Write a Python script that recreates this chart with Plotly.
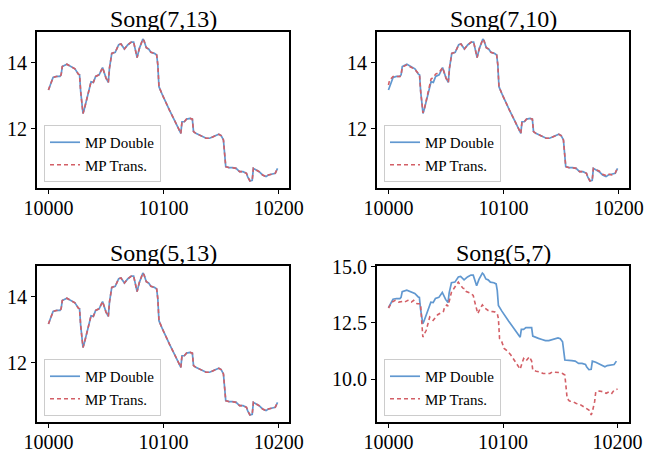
import plotly.graph_objects as go

W, H = 646, 456

titles = ["Song(7,13)", "Song(7,10)", "Song(5,13)", "Song(5,7)"]
x_tickvals = [10000, 10100, 10200]

# MP Double (shared by all panels)
double_x = [10000, 10001, 10004, 10007, 10010, 10011, 10012, 10016, 10018, 10021,
            10023, 10026, 10027, 10028, 10030, 10031, 10034, 10037, 10039, 10041,
            10044, 10047, 10050, 10052, 10053, 10055, 10058, 10061, 10063, 10066,
            10069, 10072, 10074, 10076, 10077, 10079, 10082, 10083, 10085, 10087,
            10089, 10092, 10094, 10095, 10096, 10099, 10102, 10105, 10108, 10111,
            10113, 10115, 10116, 10118, 10120, 10123, 10125, 10126, 10128, 10131,
            10134, 10137, 10140, 10143, 10146, 10148, 10150, 10152, 10154, 10157,
            10160, 10163, 10166, 10169, 10172, 10173, 10175, 10177, 10178, 10181,
            10183, 10186, 10189, 10191, 10194, 10197, 10199]
double_y = [13.17, 13.27, 13.55, 13.58, 13.58, 13.63, 13.88, 13.95, 13.91, 13.86,
            13.81, 13.65, 13.63, 13.12, 12.46, 12.57, 13.02, 13.42, 13.40, 13.58,
            13.63, 13.85, 13.53, 13.40, 13.83, 14.28, 14.31, 14.54, 14.56, 14.41,
            14.54, 14.62, 14.62, 14.33, 14.15, 14.43, 14.71, 14.66, 14.45, 14.41,
            14.31, 14.28, 14.23, 13.93, 13.27, 13.02, 12.77, 12.57, 12.36, 12.13,
            11.96, 11.86, 12.21, 12.21, 12.29, 12.31, 12.29, 11.91, 11.86, 11.81,
            11.76, 11.71, 11.71, 11.76, 11.79, 11.83, 11.79, 11.66, 10.85, 10.82,
            10.82, 10.80, 10.70, 10.70, 10.65, 10.55, 10.42, 10.44, 10.80, 10.75,
            10.70, 10.60, 10.55, 10.60, 10.62, 10.65, 10.80]

# MP Trans. per panel
trans_7_13_y = [13.17, 13.27, 13.55, 13.58, 13.58, 13.63, 13.88, 13.95, 13.91, 13.86,
                13.81, 13.65, 13.63, 13.12, 12.46, 12.57, 13.02, 13.42, 13.40, 13.58,
                13.63, 13.85, 13.53, 13.40, 13.83, 14.28, 14.31, 14.54, 14.56, 14.41,
                14.54, 14.62, 14.62, 14.33, 14.15, 14.43, 14.71, 14.66, 14.45, 14.41,
                14.31, 14.28, 14.23, 13.93, 13.27, 13.02, 12.77, 12.57, 12.36, 12.13,
                11.96, 11.86, 12.21, 12.21, 12.29, 12.31, 12.29, 11.91, 11.86, 11.81,
                11.76, 11.71, 11.71, 11.76, 11.79, 11.83, 11.79, 11.66, 10.85, 10.82,
                10.82, 10.80, 10.70, 10.70, 10.65, 10.55, 10.42, 10.44, 10.80, 10.75,
                10.70, 10.60, 10.55, 10.60, 10.62, 10.65, 10.80]
trans_7_10_y = [13.32, 13.47, 13.58, 13.58, 13.58, 13.63, 13.86, 13.93, 13.88, 13.83,
                13.79, 13.65, 13.63, 13.12, 12.48, 12.57, 13.05, 13.50, 13.55, 13.65,
                13.70, 13.85, 13.53, 13.40, 13.83, 14.28, 14.31, 14.54, 14.56, 14.41,
                14.54, 14.62, 14.62, 14.33, 14.15, 14.43, 14.71, 14.66, 14.45, 14.41,
                14.31, 14.28, 14.23, 13.93, 13.27, 13.02, 12.77, 12.57, 12.36, 12.13,
                11.96, 11.86, 12.21, 12.21, 12.29, 12.31, 12.29, 11.91, 11.86, 11.81,
                11.76, 11.71, 11.71, 11.76, 11.79, 11.83, 11.79, 11.66, 10.85, 10.82,
                10.82, 10.80, 10.70, 10.70, 10.65, 10.55, 10.42, 10.44, 10.80, 10.75,
                10.72, 10.62, 10.58, 10.63, 10.60, 10.66, 10.82]
trans_5_13_y = [13.17, 13.27, 13.55, 13.58, 13.58, 13.63, 13.88, 13.95, 13.91, 13.86,
                13.81, 13.65, 13.63, 13.12, 12.46, 12.57, 13.02, 13.42, 13.40, 13.58,
                13.63, 13.85, 13.53, 13.40, 13.83, 14.28, 14.31, 14.54, 14.56, 14.41,
                14.54, 14.62, 14.62, 14.33, 14.15, 14.43, 14.71, 14.66, 14.45, 14.41,
                14.31, 14.28, 14.23, 13.93, 13.27, 13.02, 12.77, 12.57, 12.36, 12.13,
                11.96, 11.86, 12.21, 12.21, 12.29, 12.31, 12.29, 11.91, 11.86, 11.81,
                11.76, 11.71, 11.71, 11.76, 11.79, 11.83, 11.79, 11.66, 10.85, 10.82,
                10.82, 10.80, 10.70, 10.70, 10.65, 10.55, 10.42, 10.44, 10.80, 10.75,
                10.70, 10.60, 10.55, 10.60, 10.62, 10.65, 10.80]

trans_5_7_x = [10000, 10003, 10006, 10009, 10012, 10014, 10017, 10020, 10022, 10025,
               10028, 10029, 10030, 10033, 10035, 10036, 10039, 10041, 10043, 10046,
               10048, 10049, 10051, 10052, 10054, 10055, 10058, 10061, 10062, 10065,
               10067, 10068, 10071, 10074, 10075, 10077, 10078, 10080, 10082, 10084,
               10087, 10090, 10093, 10095, 10096, 10097, 10099, 10101, 10104, 10107,
               10110, 10113, 10115, 10117, 10118, 10120, 10123, 10125, 10126, 10129,
               10132, 10135, 10138, 10141, 10143, 10146, 10149, 10152, 10154, 10156,
               10158, 10161, 10164, 10167, 10170, 10172, 10175, 10177, 10178, 10180,
               10181, 10184, 10187, 10190, 10193, 10195, 10197, 10200]
trans_5_7_y = [13.16, 13.42, 13.50, 13.42, 13.45, 13.42, 13.50, 13.42, 13.50, 13.35,
               13.35, 12.54, 11.87, 12.17, 12.54, 12.76, 12.61, 12.76, 12.86, 12.95,
               13.01, 13.20, 13.30, 13.24, 13.64, 13.86, 14.09, 14.31, 14.23, 14.04,
               14.01, 13.89, 13.83, 13.72, 13.50, 13.13, 12.91, 13.13, 13.30, 13.16,
               13.05, 13.01, 12.98, 12.91, 12.68, 11.80, 11.65, 11.36, 11.24, 11.06,
               10.84, 10.62, 10.44, 10.77, 10.91, 10.80, 10.99, 10.80, 10.40, 10.35,
               10.32, 10.25, 10.25, 10.25, 10.32, 10.32, 10.29, 10.25, 10.18, 9.14,
               9.03, 9.00, 8.92, 8.88, 8.78, 8.70, 8.63, 8.41, 8.55, 9.00,
               9.44, 9.47, 9.44, 9.37, 9.44, 9.37, 9.51, 9.56]

panels = [
    dict(title=titles[0], tx=double_x, ty=trans_7_13_y, yticks=[12, 14], ytext=["12", "14"]),
    dict(title=titles[1], tx=double_x, ty=trans_7_10_y, yticks=[12, 14], ytext=["12", "14"]),
    dict(title=titles[2], tx=double_x, ty=trans_5_13_y, yticks=[12, 14], ytext=["12", "14"]),
    dict(title=titles[3], tx=trans_5_7_x, ty=trans_5_7_y, yticks=[10.0, 12.5, 15.0],
         ytext=["10.0", "12.5", "15.0"]),
]

# pixel boxes of the four axes (left, right, top, bottom)
boxes = [(37, 289, 32, 188), (377, 629, 32, 188), (37, 289, 266, 422), (377, 629, 266, 422)]

BLUE = "#6198d0"
RED = "#d35f66"
FONT = "Liberation Serif"

fig = go.Figure()
layout = dict(
    width=W, height=H, margin=dict(l=0, r=0, t=0, b=0, autoexpand=False),
    paper_bgcolor="white", plot_bgcolor="white",
    font=dict(family=FONT, color="black", size=20),
    showlegend=True, annotations=[],
)

for i, p in enumerate(panels):
    n = i + 1
    xa = "x" if n == 1 else f"x{n}"
    ya = "y" if n == 1 else f"y{n}"
    lg = "legend" if n == 1 else f"legend{n}"
    fig.add_trace(go.Scatter(x=double_x, y=double_y, mode="lines", name="MP Double",
                             line=dict(color=BLUE, width=1.7), xaxis=xa, yaxis=ya, legend=lg))
    fig.add_trace(go.Scatter(x=p["tx"], y=p["ty"], mode="lines", name="MP Trans.",
                             line=dict(color=RED, width=1.6, dash="4px,3px"),
                             xaxis=xa, yaxis=ya, legend=lg))
    l, r, t, b = boxes[i]
    dx = [l / W, r / W]
    dy = [(H - b) / H, (H - t) / H]
    allx = list(double_x) + list(p["tx"])
    ally = list(double_y) + list(p["ty"])
    xr = [min(allx), max(allx)]
    yr = [min(ally), max(ally)]
    mx = 0.05 * (xr[1] - xr[0])
    my = 0.05 * (yr[1] - yr[0])
    axis_common = dict(showline=True, mirror=True, linecolor="black", linewidth=2,
                       ticks="outside", ticklen=4, tickwidth=1.3, tickcolor="black",
                       showgrid=False, zeroline=False, automargin=False,
                       tickfont=dict(family=FONT, size=20, color="black"))
    layout["xaxis" if n == 1 else f"xaxis{n}"] = dict(
        domain=dx, anchor=ya, range=[xr[0] - mx, xr[1] + mx], ticklabelstandoff=-3,
        tickvals=x_tickvals, ticktext=[str(v) for v in x_tickvals], **axis_common)
    layout["yaxis" if n == 1 else f"yaxis{n}"] = dict(
        domain=dy, anchor=xa, range=[yr[0] - my, yr[1] + my],
        tickvals=p["yticks"], ticktext=p["ytext"], **axis_common)
    layout[lg] = dict(x=(l + 7) / W, y=(H - b + 6) / H, xanchor="left", yanchor="bottom",
                      bgcolor="rgba(255,255,255,0.8)", bordercolor="#cccccc", borderwidth=1,
                      font=dict(family=FONT, size=15, color="black"),
                      tracegroupgap=0)
    layout["annotations"].append(dict(
        text=p["title"], x=(dx[0] + dx[1]) / 2, y=dy[1], xref="paper", yref="paper",
        xanchor="center", yanchor="bottom", showarrow=False, yshift=-2,
        font=dict(family=FONT, size=24, color="black")))

fig.update_layout(**layout)
fig.write_html("out.html")
